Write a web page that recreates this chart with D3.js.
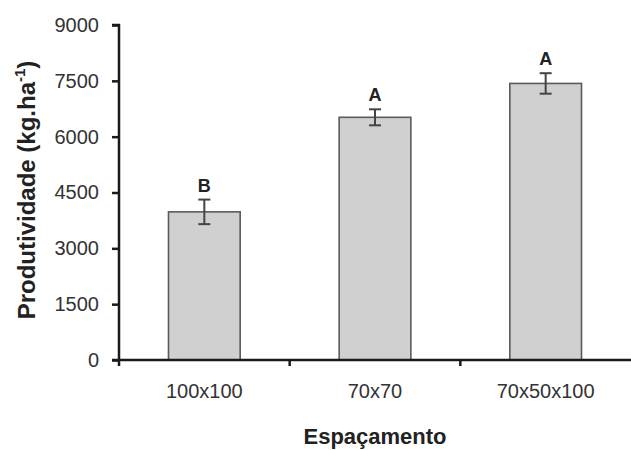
<!DOCTYPE html>
<html><head><meta charset="utf-8">
<script src="https://cdn.jsdelivr.net/npm/d3@7"></script>
<style>body{margin:0;background:#fff}svg{display:block}text{font-family:"Liberation Sans",Arial,sans-serif}</style>
</head><body>
<script>
const categories = ["100x100", "70x70", "70x50x100"];
const values = [3980, 6520, 7430];
const errors = [330, 215, 275];
const letters = ["B", "A", "A"];
const yTicks = [0, 1500, 3000, 4500, 6000, 7500, 9000];

const W = 631, H = 450;
const svg = d3.select("body").append("svg").attr("width", W).attr("height", H);
const x0 = 119, y0 = 360;
const x = d3.scaleBand().domain(categories).range([x0, 631]).paddingInner(0.58).paddingOuter(0.29);
const y = d3.scaleLinear().domain([0, 9000]).range([y0, 25]);

// bars
svg.selectAll("rect.bar").data(categories).enter().append("rect")
  .attr("x", d => x(d)).attr("width", x.bandwidth())
  .attr("y", (d, i) => y(values[i])).attr("height", (d, i) => y0 - y(values[i]))
  .attr("fill", "#d0d0d0").attr("stroke", "#5a5a5a").attr("stroke-width", 1.6);

// error bars
const eg = svg.append("g").attr("stroke", "#444").attr("stroke-width", 2);
categories.forEach((c, i) => {
  const cx = x(c) + x.bandwidth() / 2;
  const t = y(values[i] + errors[i]), b = y(values[i] - errors[i]);
  eg.append("line").attr("x1", cx).attr("x2", cx).attr("y1", t).attr("y2", b);
  eg.append("line").attr("x1", cx - 6).attr("x2", cx + 6).attr("y1", t).attr("y2", t);
  eg.append("line").attr("x1", cx - 6).attr("x2", cx + 6).attr("y1", b).attr("y2", b);
  svg.append("text").attr("x", cx).attr("y", t - 8).attr("text-anchor", "middle")
    .attr("font-size", 18).attr("font-weight", "bold").attr("fill", "#222").text(letters[i]);
});

// y axis
const ya = svg.append("g").attr("transform", `translate(${x0},0)`)
  .call(d3.axisLeft(y).tickValues(yTicks).tickSize(7).tickPadding(13).tickFormat(d3.format("d")));
ya.select(".domain").attr("stroke", "#1a1a1a").attr("stroke-width", 2.5).attr("d", `M-7,${y(9000)}H0V${y0}`);
ya.selectAll(".tick line").attr("stroke", "#1a1a1a").attr("stroke-width", 2.5);
ya.selectAll(".tick text").attr("font-size", 20).attr("fill", "#333").attr("font-family", '"Liberation Sans",Arial,sans-serif');

// x axis
const xa = svg.append("g").attr("transform", `translate(0,${y0})`)
  .call(d3.axisBottom(x).tickSize(0).tickPadding(24));
xa.select(".domain").remove();
xa.append("line").attr("x1", x0 - 7).attr("x2", W).attr("stroke", "#1a1a1a").attr("stroke-width", 2.5);
const step = x.step();
[0, 1, 2].forEach(i => {
  const tx = x0 + i * step;
  xa.append("line").attr("x1", tx).attr("x2", tx).attr("y1", 0).attr("y2", 6).attr("stroke", "#1a1a1a").attr("stroke-width", 2.5);
});
xa.selectAll(".tick text").attr("font-size", 20).attr("fill", "#333").attr("font-family", '"Liberation Sans",Arial,sans-serif');

// axis titles
svg.append("text").attr("x", (x0 + W) / 2).attr("y", 444).attr("text-anchor", "middle")
  .attr("font-size", 22).attr("font-weight", "bold").attr("fill", "#222").text("Espaçamento");
const yt = svg.append("text").attr("transform", `translate(35,190) rotate(-90)`)
  .attr("text-anchor", "middle").attr("font-size", 24).attr("font-weight", "bold").attr("fill", "#222");
yt.append("tspan").text("Produtividade (kg.ha");
yt.append("tspan").attr("dy", -10).attr("font-size", 15).text("-1");
yt.append("tspan").attr("dy", 10).text(")");
</script>
</body></html>
